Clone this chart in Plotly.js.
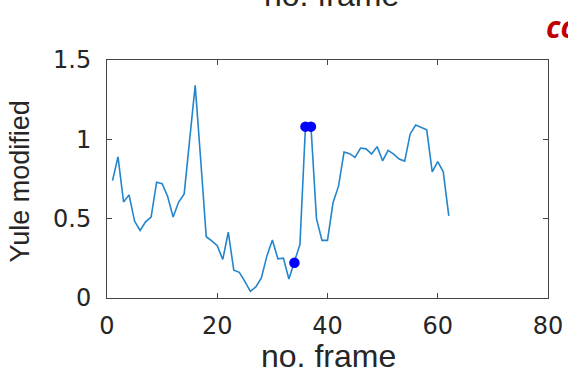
<!DOCTYPE html>
<html>
<head>
<meta charset="utf-8">
<script src="https://cdn.plot.ly/plotly-3.0.1.min.js"></script>
<style>html,body{margin:0;padding:0;background:#fff;}#chart{width:568px;height:372px;}</style>
</head>
<body>
<div id="chart"></div>
<script>
const frames = [1,2,3,4,5,6,7,8,9,10,11,12,13,14,15,16,17,18,19,20,21,22,23,24,25,26,27,28,29,30,31,32,33,34,35,36,37,38,39,40,41,42,43,44,45,46,47,48,49,50,51,52,53,54,55,56,57,58,59,60,61,62];
const yule = [0.74,0.89,0.605,0.65,0.485,0.426,0.48,0.51,0.73,0.72,0.64,0.51,0.605,0.656,1.0,1.34,0.87,0.386,0.36,0.33,0.243,0.415,0.175,0.162,0.105,0.042,0.07,0.127,0.264,0.365,0.247,0.251,0.12,0.222,0.338,1.08,1.08,0.5,0.363,0.363,0.6,0.705,0.92,0.91,0.886,0.945,0.94,0.907,0.954,0.865,0.93,0.907,0.876,0.863,1.034,1.09,1.076,1.06,0.795,0.86,0.795,0.517];
const markFrames = [34,36,37];
const markValues = [0.222,1.08,1.08];
const xTicks = [0,20,40,60,80];
const yTicks = [0,0.5,1,1.5];
const yTickText = ['0','0.5','1','1.5'];
const xTitle = 'no. frame';
const yTitle = 'Yule modified';

const titleFont = 'Liberation Sans, Arial, sans-serif';
const tickFont = 'DejaVu Sans, sans-serif';
const traces = [
  {x: frames, y: yule, type: 'scatter', mode: 'lines',
   line: {color: '#2385cc', width: 1.6}, hoverinfo: 'skip'},
  {x: markFrames, y: markValues, type: 'scatter', mode: 'markers',
   marker: {color: '#0000ff', size: 10.5, line: {width: 0}}, hoverinfo: 'skip'}
];
const axisCommon = {
  showline: true, linecolor: '#454545', linewidth: 1, mirror: 'ticks',
  ticks: 'inside', ticklen: 5, tickcolor: '#454545', tickwidth: 1,
  showgrid: false, zeroline: false,
  tickfont: {family: tickFont, size: 24, color: '#262626'}
};
const layout = {
  width: 568, height: 372,
  margin: {l: 107, r: 20, t: 60, b: 74},
  paper_bgcolor: '#fff', plot_bgcolor: '#fff',
  showlegend: false,
  xaxis: Object.assign({}, axisCommon, {
    range: [0, 80], tickvals: xTicks, ticktext: xTicks.map(String),
    ticklabelstandoff: 6
  }),
  yaxis: Object.assign({}, axisCommon, {
    range: [0, 1.5], tickvals: yTicks, ticktext: yTickText,
    ticklabelstandoff: 10
  }),
  annotations: [
    {text: xTitle, xref: 'paper', yref: 'paper', x: 0.502, y: 0, yshift: -57.5,
     xanchor: 'center', yanchor: 'middle', showarrow: false,
     font: {family: titleFont, size: 32, color: '#262626'}},
    {text: yTitle, xref: 'paper', yref: 'paper', x: 0, xshift: -87, y: 0.49,
     xanchor: 'center', yanchor: 'middle', showarrow: false, textangle: -90,
     font: {family: titleFont, size: 27, color: '#262626'}},
    {text: xTitle, xref: 'paper', yref: 'paper', x: 0.508, y: 1, yshift: 65,
     xanchor: 'center', yanchor: 'middle', showarrow: false,
     font: {family: titleFont, size: 32, color: '#262626'}},
    {text: '<b><i>co</i></b>', xref: 'paper', yref: 'paper', x: 1, xshift: -4, y: 1, yshift: 34,
     xanchor: 'left', yanchor: 'middle', showarrow: false,
     font: {family: 'Open Sans, sans-serif', size: 30, color: '#c00000'}}
  ]
};
Plotly.newPlot('chart', traces, layout, {displayModeBar: false, staticPlot: true});
</script>
</body>
</html>
